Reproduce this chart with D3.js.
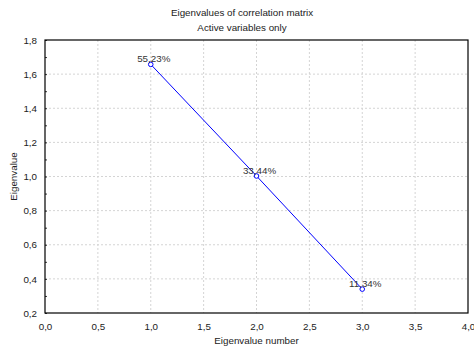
<!DOCTYPE html>
<html>
<head>
<meta charset="utf-8">
<script src="https://cdn.jsdelivr.net/npm/d3@7"></script>
<style>
  body { margin: 0; background: #fff; }
  svg { font-family: "Liberation Sans", Arial, sans-serif; }
</style>
</head>
<body>
<div id="chart"></div>
<script>
// NOTE: data
const eigenNumber = [1, 2, 3];
const eigenValues = [1.657, 1.003, 0.340];
const percentLabels = ['55,23%', '33,44%', '11,34%'];
const xTicks = [0, 0.5, 1, 1.5, 2, 2.5, 3, 3.5, 4];
const yTicks = [0.2, 0.4, 0.6, 0.8, 1.0, 1.2, 1.4, 1.6, 1.8];

const width = 474, height = 348;
const margin = { top: 40, right: 6, bottom: 35, left: 45 };
const fmt = (d) => d3.format('.1f')(d).replace('.', ',');
const fs = 9.8;

const svg = d3.select('#chart').append('svg')
  .attr('width', width).attr('height', height);

const x = d3.scaleLinear().domain([0, 4]).range([margin.left, width - margin.right]);
const y = d3.scaleLinear().domain([0.2, 1.8]).range([height - margin.bottom, margin.top]);

// grid
svg.append('g')
  .selectAll('line')
  .data(xTicks.slice(1, -1))
  .join('line')
  .attr('x1', (d) => x(d)).attr('x2', (d) => x(d))
  .attr('y1', y(1.8)).attr('y2', y(0.2))
  .attr('stroke', '#d4d4d4').attr('stroke-dasharray', '2,2');
svg.append('g')
  .selectAll('line')
  .data(yTicks.slice(1, -1))
  .join('line')
  .attr('x1', x(0)).attr('x2', x(4))
  .attr('y1', (d) => y(d)).attr('y2', (d) => y(d))
  .attr('stroke', '#d4d4d4').attr('stroke-dasharray', '2,2');

// axes
const xAxis = svg.append('g')
  .attr('transform', `translate(0,${y(0.2)})`)
  .call(d3.axisBottom(x).tickValues(xTicks).tickFormat(fmt).tickSize(0).tickPadding(10));
const yAxis = svg.append('g')
  .attr('transform', `translate(${x(0)},0)`)
  .call(d3.axisLeft(y).tickValues(d3.range(0.2, 1.81, 0.1)).tickFormat((d) => {
    const r = Math.round(d * 10);
    return r % 2 === 0 ? fmt(d) : '';
  }).tickSize(-2).tickPadding(8));
[xAxis, yAxis].forEach((a) => {
  a.select('.domain').remove();
  a.selectAll('text').attr('font-size', fs).attr('fill', '#222')
    .attr('font-family', '"Liberation Sans", Arial, sans-serif');
  a.selectAll('line').attr('stroke', '#333');
});

// frame
svg.append('rect')
  .attr('x', x(0)).attr('y', y(1.8))
  .attr('width', x(4) - x(0)).attr('height', y(0.2) - y(1.8))
  .attr('fill', 'none').attr('stroke', '#000').attr('stroke-width', 1.2);

// series
const pts = eigenNumber.map((n, i) => ({ n, v: eigenValues[i], label: percentLabels[i] }));
svg.append('path')
  .datum(pts)
  .attr('d', d3.line().x((d) => x(d.n)).y((d) => y(d.v)))
  .attr('fill', 'none').attr('stroke', '#0000ff').attr('stroke-width', 1);
svg.selectAll('circle.pt')
  .data(pts).join('circle')
  .attr('cx', (d) => x(d.n)).attr('cy', (d) => y(d.v)).attr('r', 2.3)
  .attr('fill', '#fff').attr('stroke', '#0000ff').attr('stroke-width', 1);
svg.selectAll('text.pl')
  .data(pts).join('text')
  .attr('x', (d) => x(d.n) + 3).attr('y', (d) => y(d.v) - 2)
  .attr('text-anchor', 'middle').attr('font-size', fs).attr('fill', '#333')
  .text((d) => d.label);

// titles
svg.append('text').attr('x', 242).attr('y', 16).attr('text-anchor', 'middle')
  .attr('font-size', fs).attr('fill', '#222').text('Eigenvalues of correlation matrix');
svg.append('text').attr('x', 242).attr('y', 31).attr('text-anchor', 'middle')
  .attr('font-size', fs).attr('fill', '#222').text('Active variables only');
svg.append('text').attr('x', (x(0) + x(4)) / 2).attr('y', 344).attr('text-anchor', 'middle')
  .attr('font-size', fs).attr('fill', '#222').text('Eigenvalue number');
svg.append('text')
  .attr('transform', `translate(17,${(y(0.2) + y(1.8)) / 2}) rotate(-90)`)
  .attr('text-anchor', 'middle').attr('font-size', fs).attr('fill', '#222').text('Eigenvalue');
</script>
</body>
</html>
